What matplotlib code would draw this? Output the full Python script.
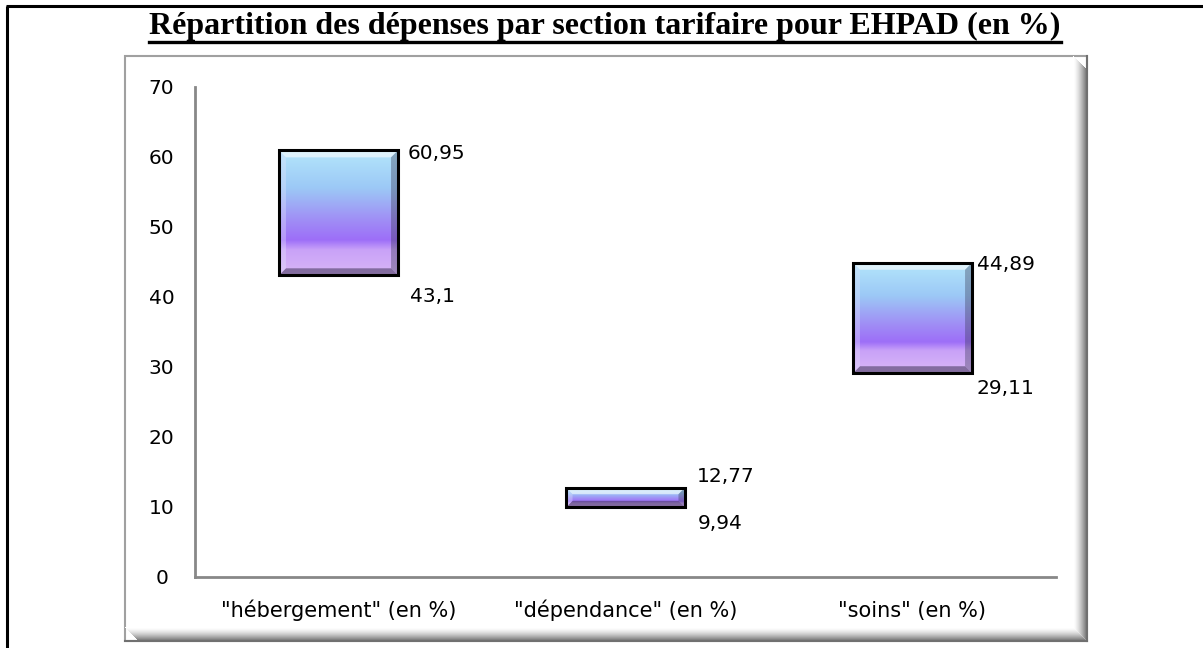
import numpy as np
import matplotlib.pyplot as plt
from matplotlib.patches import Polygon, Rectangle
from matplotlib.colors import LinearSegmentedColormap

categories = ['"hébergement" (en %)', '"dépendance" (en %)', '"soins" (en %)']
low_values = [43.1, 9.94, 29.11]
high_values = [60.95, 12.77, 44.89]
low_labels = ["43,1", "9,94", "29,11"]
high_labels = ["60,95", "12,77", "44,89"]
yticks = [0, 10, 20, 30, 40, 50, 60, 70]
title = "Répartition des dépenses par section tarifaire pour EHPAD (en %)"

# label offsets in pixels (x from bar right edge, y from bar end)
high_dx, high_dy = [38, 41, 34], [-3, 11, -2]
low_dx, low_dy = [34, 35, 33], [-21, -16, -15]

W, H = 1203, 648
fig = plt.figure(figsize=(W / 100, H / 100), dpi=100)
fig.patch.set_facecolor("white")

# background axes in pixel coordinates for frames
bg = fig.add_axes([0, 0, 1, 1])
bg.set_xlim(0, W)
bg.set_ylim(H, 0)
bg.axis("off")

# outer table border
bg.plot([7, 7], [6, H], color="black", lw=2.2, solid_capstyle="butt")
bg.plot([6, W], [6, 6], color="black", lw=2.2, solid_capstyle="butt")

# chart frame with bevel shadow
fx0, fy0, fx1, fy1 = 125, 56, 1087, 641
bg.add_patch(Rectangle((fx0, fy0), fx1 - fx0, fy1 - fy0, facecolor="white",
                       edgecolor="#a0a0a0", lw=1.5))
sw = 14
for i in range(sw):
    g = 1.0 - 0.55 * (i / (sw - 1)) ** 1.5
    c = (g, g, g)
    bg.add_patch(Polygon([(fx1 - sw + i, fy0 + i), (fx1 - sw + i + 1, fy0 + i),
                          (fx1 - sw + i + 1, fy1 - sw + i + 1), (fx1 - sw + i, fy1 - sw + i)],
                         closed=True, facecolor=c, edgecolor="none"))
    bg.add_patch(Polygon([(fx0 + i, fy1 - sw + i), (fx1 - sw + i, fy1 - sw + i),
                          (fx1 - sw + i + 1, fy1 - sw + i + 1), (fx0 + i, fy1 - sw + i + 1)],
                         closed=True, facecolor=c, edgecolor="none"))
bg.plot([fx1, fx1], [fy0, fy1], color="#707070", lw=1.5)
bg.plot([fx0, fx1], [fy1, fy1], color="#707070", lw=1.5)

# title with underline
t = bg.text(605, 26, title, ha="center", va="center", fontsize=23,
            fontweight="bold", family="Liberation Serif")
fig.canvas.draw()
bb = t.get_window_extent(fig.canvas.get_renderer())
bg.plot([bb.x0, bb.x1], [H - bb.y0 + 1, H - bb.y0 + 1], color="black", lw=2.4)

# main axes
ax = fig.add_axes([195 / W, (H - 577) / H, 861 / W, 490 / H])
ax.set_xlim(-0.5, 2.5)
ax.set_ylim(0, 70)
ax.patch.set_alpha(0)
for s in ["top", "right"]:
    ax.spines[s].set_visible(False)
for s in ["left", "bottom"]:
    ax.spines[s].set_color("#888888")
    ax.spines[s].set_linewidth(2)
ax.set_yticks(yticks)
ax.set_yticklabels([str(v) for v in yticks], fontsize=14.5, family="DejaVu Sans")
ax.set_xticks(range(len(categories)))
ax.set_xticklabels(categories, fontsize=15, family="DejaVu Sans")
ax.tick_params(axis="y", length=0, pad=24)
ax.tick_params(axis="x", length=0, pad=29)
for lbl in ax.get_yticklabels():
    lbl.set_horizontalalignment("center")
for lbl in ax.get_xticklabels():
    lbl.set_verticalalignment("baseline")

x = np.arange(len(categories))
heights = [h - l for h, l in zip(high_values, low_values)]
bars = ax.bar(x, heights, bottom=low_values, width=0.415, color="none",
              edgecolor="black", linewidth=2.2, zorder=3)

cmap = LinearSegmentedColormap.from_list("grad", [
    (0.0, "#b4e6fb"), (0.3, "#9cc9f6"), (0.55, "#a090f5"),
    (0.72, "#9d6ef8"), (0.8, "#c9a2f8"), (1.0, "#d8b6f6")])
grad = np.linspace(0, 1, 256).reshape(-1, 1)
fig.canvas.draw()
for b in bars:
    x0, y0 = b.get_x(), b.get_y()
    x1, y1 = x0 + b.get_width(), y0 + b.get_height()
    im = ax.imshow(grad, cmap=cmap, aspect="auto", extent=(x0, x1, y0, y1),
                   origin="upper", zorder=2, interpolation="bilinear")
    im.set_clip_path(b)
    (px0, py0), (px1, py1) = ax.transData.transform([(x0, y0), (x1, y1)])
    bw = min(7, (py1 - py0) / 3)
    bevels = [
        ([(px0, py1), (px1, py1), (px1 - bw, py1 - bw), (px0 + bw, py1 - bw)], (1, 1, 1, 0.6)),
        ([(px0, py0), (px1, py0), (px1 - bw, py0 + bw), (px0 + bw, py0 + bw)], (0.25, 0.2, 0.35, 0.55)),
        ([(px0, py0), (px0, py1), (px0 + bw, py1 - bw), (px0 + bw, py0 + bw)], (0.9, 0.9, 1, 0.35)),
        ([(px1, py0), (px1, py1), (px1 - bw, py1 - bw), (px1 - bw, py0 + bw)], (0.2, 0.2, 0.3, 0.35)),
    ]
    for pts, c in bevels:
        ax.add_patch(Polygon(pts, closed=True, facecolor=c, edgecolor="none",
                             transform=None, zorder=2.5))

px = 72 / 100  # points per pixel
for i, b in enumerate(bars):
    xr = b.get_x() + b.get_width()
    ax.annotate(high_labels[i], (xr, high_values[i]),
                xytext=(high_dx[i] * px, high_dy[i] * px), textcoords="offset points",
                ha="center", va="center", fontsize=14.5, family="DejaVu Sans")
    ax.annotate(low_labels[i], (xr, low_values[i]),
                xytext=(low_dx[i] * px, low_dy[i] * px), textcoords="offset points",
                ha="center", va="center", fontsize=14.5, family="DejaVu Sans")

fig.savefig("out.png", dpi=100)
